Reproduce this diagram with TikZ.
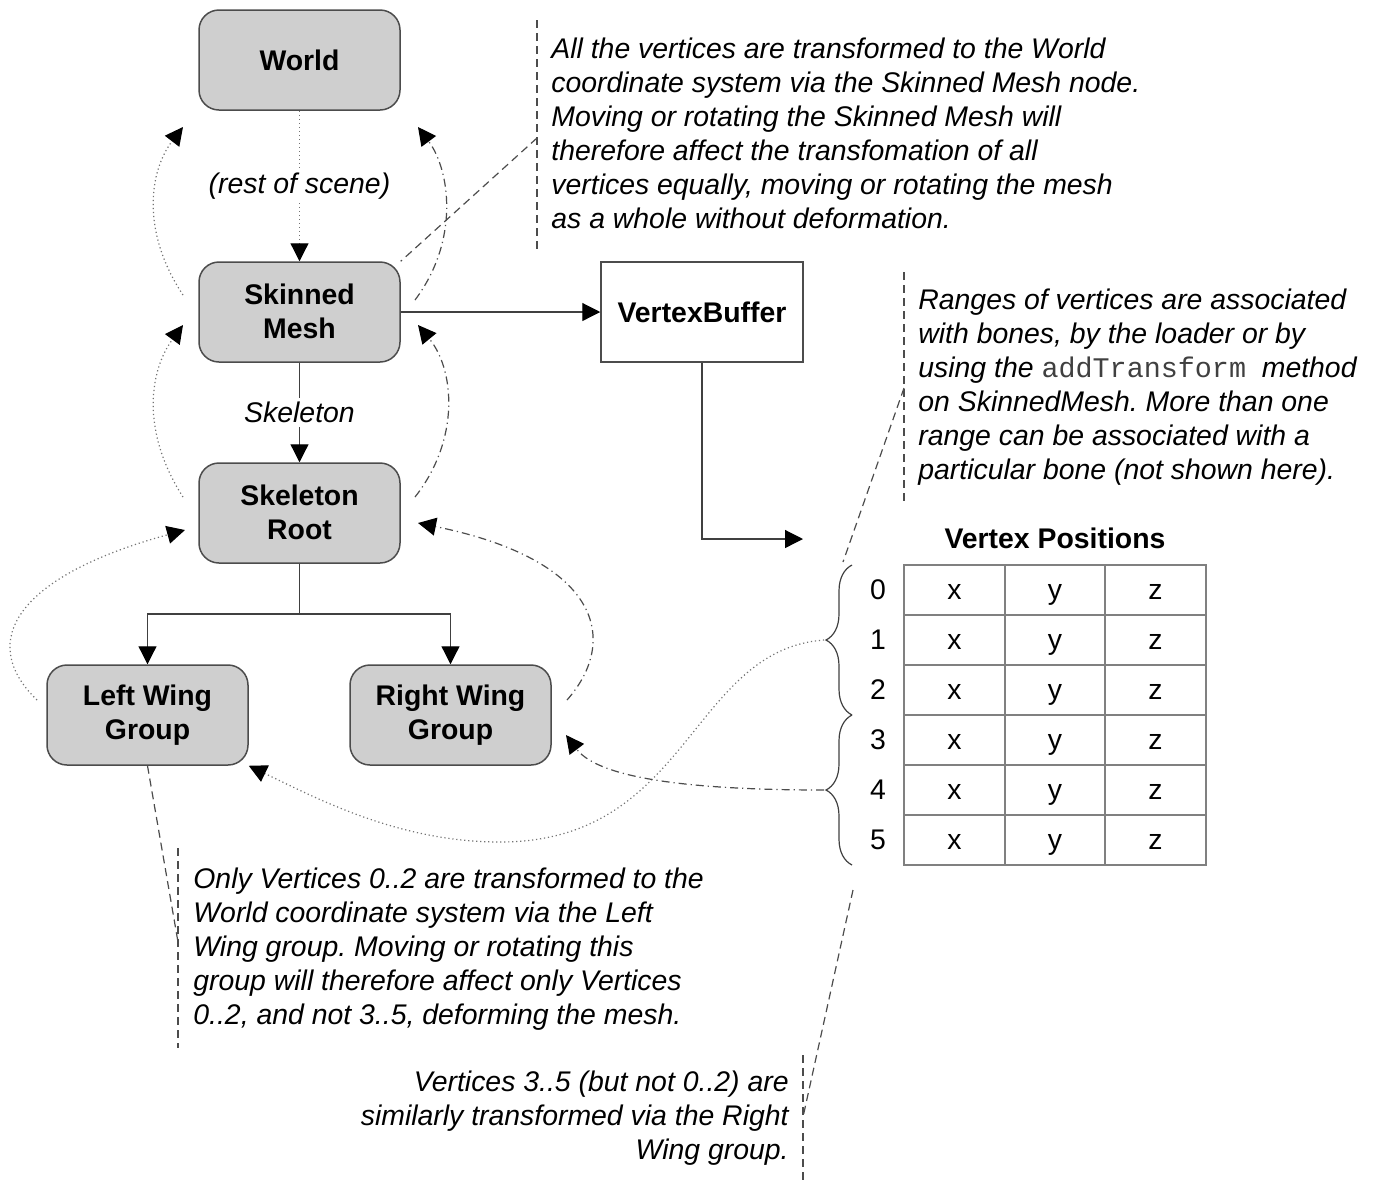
\documentclass[tikz,border=0pt]{standalone}
\usepackage{fontspec}
\setmainfont{Liberation Sans}
\setmonofont{Liberation Mono}
\usetikzlibrary{arrows.meta,decorations.pathreplacing}
\frenchspacing

\begin{document}
\begin{tikzpicture}[x=0.5pt,y=-0.5pt,
  every node/.style={font=\fontsize{14.2}{17}\selectfont},
  grp/.style={draw=black!70, line width=0.75pt, fill=black!19, rounded corners=10pt,
    minimum width=100.5pt, minimum height=50pt, align=center, inner sep=0pt,
    font=\fontsize{14.2}{17}\selectfont\bfseries},
  plainbox/.style={draw=black!70, line width=0.75pt, fill=white,
    minimum width=101pt, minimum height=50pt, inner sep=0pt,
    font=\fontsize{14.2}{17}\selectfont\bfseries},
  link/.style={draw=black!75, line width=0.6pt},
  dotline/.style={draw=black!55, line width=0.6pt, dash pattern=on 0.6pt off 1.4pt},
  dashdotline/.style={draw=black!70, line width=0.6pt, dash pattern=on 4pt off 2pt on 0.6pt off 2pt},
  leader/.style={draw=black!70, line width=0.6pt, dash pattern=on 4pt off 2.5pt},
  tipped/.style={-{Triangle[length=9pt,width=9pt,color=black]}},
  edgelabel/.style={fill=white, inner sep=2pt, font=\fontsize{14.2}{17}\selectfont\itshape},
  note/.style={inner sep=0pt, font=\fontsize{14.2}{17}\selectfont\itshape},
  cell/.style={inner sep=0pt, text height=10.2pt, text depth=0pt},
  gridline/.style={draw=black!50, line width=0.75pt},
  bracestyle/.style={draw=black!75, line width=0.6pt, decorate, decoration={brace, amplitude=13pt}},
]
\useasboundingbox (0,0) rectangle (1375,1180);

% scene graph nodes
\node[grp] (world) at (299.5,60) {World};
\node[grp] (skin) at (299.5,312) {\raisebox{1pt}{Skinned}\\\raisebox{1pt}{Mesh}};
\node[grp] (root) at (299.5,513) {\raisebox{1pt}{Skeleton}\\\raisebox{1pt}{Root}};
\node[grp] (lw) at (147.5,715) {\raisebox{1pt}{Left Wing}\\\raisebox{1pt}{Group}};
\node[grp] (rw) at (450.5,715) {\raisebox{1pt}{Right Wing}\\\raisebox{1pt}{Group}};
\node[plainbox] (vb) at (702,312) {VertexBuffer};

% hierarchy connectors
\draw[dotline,tipped] (world) -- node[edgelabel] {(rest of scene)} (skin);
\draw[link,tipped] (skin) -- node[edgelabel] {Skeleton} (root);
\coordinate (split) at (299.5,614);
\draw[link] (root.south) -- (split);
\draw[link,tipped] (split) -| (lw.north);
\draw[link,tipped] (split) -| (rw.north);
\draw[link,tipped] (skin.east) -- (vb.west);
\coordinate (vpin) at (803,539);
\draw[link,tipped] (vb.south) |- (vpin);

% vertex table
\node[font=\fontsize{14.2}{17}\selectfont\bfseries] (vptitle) at (1055,538) {Vertex Positions};
\draw[gridline] (904,565) rectangle (1206,865);
\foreach \r in {615,665,715,765,815} \draw[gridline] (904,\r) -- (1206,\r);
\foreach \c in {1005,1105} \draw[gridline] (\c,565) -- (\c,865);
\foreach \i in {0,...,5} {
  \node[cell] (idx\i) at (878,589+50*\i) {\i};
  \node[cell] (cx\i) at (954.5,589+50*\i) {x};
  \node[cell] (cy\i) at (1055,589+50*\i) {y};
  \node[cell] (cz\i) at (1155.5,589+50*\i) {z};
}

% braces grouping the rows
\draw[bracestyle] (852,715) -- (852,565);
\draw[bracestyle] (852,865) -- (852,715);
\coordinate (braceA) at (824,640);
\coordinate (braceB) at (824,790);

% transform propagation (dotted: left wing chain)
\coordinate (dA0) at (183,295); \coordinate (dA1) at (183,127);
\coordinate (dB0) at (183,497); \coordinate (dB1) at (183,325);
\coordinate (dC0) at (37,700);  \coordinate (dC1) at (185,530);
\draw[dotline,tipped] (dA0) .. controls (140,230) and (150,170) .. (dA1);
\draw[dotline,tipped] (dB0) .. controls (140,430) and (150,370) .. (dB1);
\draw[dotline,tipped] (dC0) .. controls (-25,640) and (20,575) .. (dC1);
\draw[dotline,tipped] (braceA) .. controls (690,650) and (690,842) .. (500,842)
  .. controls (400,842) and (320,800) .. (lw.south east);

% transform propagation (dash-dot: right wing chain)
\coordinate (eA0) at (415,300); \coordinate (eA1) at (418,127);
\coordinate (eB0) at (415,497); \coordinate (eB1) at (418,325);
\coordinate (eC0) at (567,700); \coordinate (eC1) at (418,523);
\coordinate (eD1) at (566,735);
\draw[dashdotline,tipped] (eA0) .. controls (460,240) and (450,170) .. (eA1);
\draw[dashdotline,tipped] (eB0) .. controls (460,440) and (455,370) .. (eB1);
\draw[dashdotline,tipped] (eC0) .. controls (620,640) and (600,560) .. (eC1);
\draw[dashdotline,tipped] (braceB) .. controls (700,790) and (600,780) .. (eD1);

% annotations
\node[note, anchor=north west, align=left] (n1) at (551,38)
  {All the vertices are transformed to the World\\
   coordinate system via the Skinned Mesh node.\\
   Moving or rotating the Skinned Mesh will\\
   therefore affect the transfomation of all\\
   vertices equally, moving or rotating the mesh\\
   as a whole without deformation.};
\draw[leader] (537,20) -- (537,250);
\draw[leader] (537,138) -- (skin.north east);

\node[note, anchor=north west, align=left] (n2) at (918,289)
  {Ranges of vertices are associated\\
   with bones, by the loader or by\\
   using the {\upshape\ttfamily\color{black!75}addTransform}\ \ method\\
   on SkinnedMesh. More than one\\
   range can be associated with a\\
   particular bone (not shown here).};
\draw[leader] (904,272) -- (904,505);
\draw[leader] (904,388) -- (843,562);

\node[note, anchor=north west, align=left] (n3) at (193,867)
  {Only Vertices 0..2 are transformed to the\\
   World coordinate system via the Left\\
   Wing group. Moving or rotating this\\
   group will therefore affect only Vertices\\
   0..2, and not 3..5, deforming the mesh.};
\draw[leader] (178,848) -- (178,1048);
\draw[leader] (lw.south) -- (178,942);

\node[note, anchor=north east, align=right] (n4) at (789,1070)
  {Vertices 3..5 (but not 0..2) are\\
   similarly transformed via the Right\\
   Wing group.};
\draw[leader] (803,1055) -- (803,1180);
\draw[leader] (853,890) -- (803,1117);
\end{tikzpicture}
\end{document}
